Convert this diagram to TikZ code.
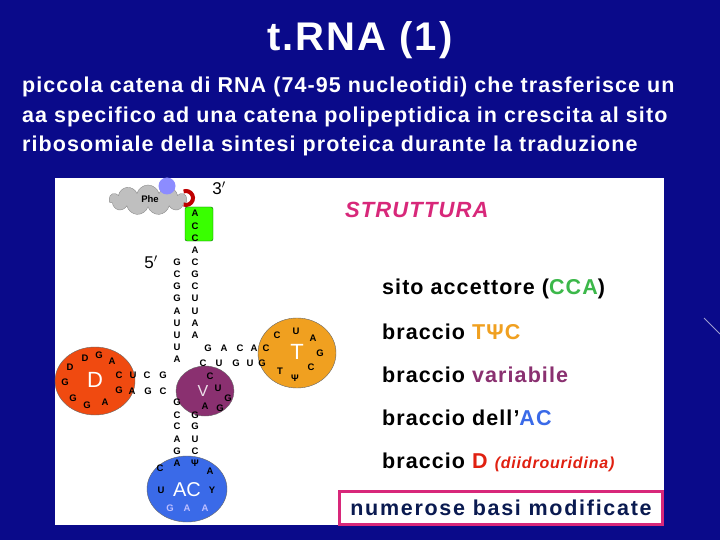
\documentclass[tikz,border=0pt]{standalone}
\usepackage{fontspec}
\setmainfont{Liberation Sans}
\newfontfamily\myfa[LetterSpace=5]{Liberation Sans}
\newfontfamily\myfb[LetterSpace=5]{Liberation Sans}
\newfontfamily\myfc[LetterSpace=8]{Liberation Sans}
\newfontfamily\myfd[LetterSpace=5]{Liberation Sans}
\usetikzlibrary{shapes.symbols,shapes.geometric}
\definecolor{bg}{HTML}{0A0A8A}
\definecolor{pinkc}{HTML}{D8287A}
\definecolor{greenc}{HTML}{3CB84A}
\definecolor{orangec}{HTML}{F0A020}
\definecolor{purc}{HTML}{8A3070}
\definecolor{bluec}{HTML}{3A6AE8}
\definecolor{redc}{HTML}{E02010}
\definecolor{dred}{HTML}{F04A10}
\definecolor{navyc}{HTML}{0A1A50}
\tikzset{b/.style={font=\fontsize{9.5}{10}\selectfont\bfseries,inner sep=0pt},
 item/.style={font=\myfb\fontsize{21.5}{22}\selectfont\bfseries,anchor=west,inner sep=0pt},
 loop/.style={draw=black!60,line width=0.4pt}}
\begin{document}
\begin{tikzpicture}[x=1pt,y=-1pt]
\fill[bg] (0,0) rectangle (720,540);
\useasboundingbox (0,0) rectangle (720,540);
\draw[white!60!bg,line width=1pt] (704,318) -- (720,334);
\node[text=white,font=\myfd\fontsize{40}{44}\selectfont\bfseries] (title) at (360,40) {t.RNA (1)};
\node[text=white,font=\myfa\fontsize{21.5}{29.5}\selectfont\bfseries,align=left,anchor=north west,inner sep=0pt] (para) at (22,77)
{piccola catena di RNA (74-95 nucleotidi) che trasferisce un\\aa specifico ad una catena polipeptidica in crescita al sito\\ribosomiale della sintesi proteica durante la traduzione};
\fill[white] (55,178) rectangle (664,525);
% Phe
\node[cloud,cloud puffs=11,aspect=3,fill=black!25,draw=black!45,minimum width=78,minimum height=30] (cl) at (148,200) {};
\node[font=\fontsize{9.5}{9}\selectfont\bfseries] (phe) at (150,199) {Phe};
\node[circle,fill=blue!45!white,minimum size=17,inner sep=0] (bc) at (167,186) {};
\draw[red!75!black,line width=4pt] (186,198) ++(110:7) arc (110:-110:7);
\node[font=\fontsize{17}{17}\selectfont] (t3) at (219,188) {3$'$};
\node[font=\fontsize{17}{17}\selectfont] (t5) at (151,262) {5$'$};
\node[fill=green!70!lime,draw=green!40!black,rounded corners=2pt,minimum width=28,minimum height=34,inner sep=0] (gb) at (199,224) {};
\foreach \l/\y in {A/213,C/226,C/238,A/250,C/262,G/274,C/286,U/298,U/311,A/323,A/335} \node[b] at (195,\y) {\l};
\foreach \l/\y in {G/262,C/274,G/286,G/298,A/311,U/323,U/335,U/347,A/359} \node[b] at (177,\y) {\l};
% loops
\node[ellipse,fill=orangec,loop,minimum width=78,minimum height=70] (T) at (297,353) {};
\node[ellipse,fill=dred,loop,minimum width=80,minimum height=68] (D) at (95,381) {};
\node[ellipse,fill=purc,loop,minimum width=58,minimum height=50] (V) at (205,391) {};
\node[ellipse,fill=bluec,loop,minimum width=80,minimum height=66] (AC) at (187,489) {};
\node[text=white,font=\fontsize{22}{22}\selectfont] at (297,352) {T};
\node[text=white,font=\fontsize{22}{22}\selectfont] at (95,380) {D};
\node[text=white!85!purc,font=\fontsize{16}{16}\selectfont] at (203,391) {V};
\node[text=white,font=\fontsize{20}{20}\selectfont] at (187,490) {AC};
% T arm
\foreach \l/\x in {G/208,A/224,C/240,A/254,C/266} \node[b] at (\x,348) {\l};
\foreach \l/\x in {C/203,U/219,G/236,U/250,G/262} \node[b] at (\x,363) {\l};
\foreach \l/\x/\y in {C/277/335,U/296/331,A/313/338,G/320/353,C/311/367,Ψ/295/378,T/280/371} \node[b] at (\x,\y) {\l};
% D arm
\foreach \l/\x/\y in {D/70/367,D/85/358,G/99/355,A/112/361,C/119/375,G/119/390,A/105/402,G/87/405,G/73/398,G/65/382} \node[b] at (\x,\y) {\l};
\foreach \l/\x in {U/133,C/147,G/163} \node[b] at (\x,375) {\l};
\foreach \l/\x in {A/132,G/148,C/163} \node[b] at (\x,391) {\l};
% V
\foreach \l/\x/\y in {C/210/376,U/218/388,G/228/398,G/220/408,A/205/406} \node[b] at (\x,\y) {\l};
% AC stem
\foreach \l/\y in {G/402,C/415,C/426,A/439,G/451,A/463} \node[b] at (177,\y) {\l};
\foreach \l/\y in {G/415,G/426,U/439,C/451,Ψ/463} \node[b] at (195,\y) {\l};
\foreach \l/\x/\y in {C/160/468,A/210/471,Y/212/490,U/161/490} \node[b] at (\x,\y) {\l};
\foreach \l/\x in {G/170,A/187,A/205} \node[b,text=blue!25!white] at (\x,508) {\l};
% right texts
\node[text=pinkc,font=\myfd\fontsize{22}{22}\selectfont\bfseries\itshape,anchor=west,inner sep=0pt] (st) at (345,210) {STRUTTURA};
\node[item] (i1) at (382,289) {sito accettore (\textcolor{greenc}{CCA})};
\node[item] (i2) at (382,332) {braccio \textcolor{orangec}{TΨC}};
\node[item] (i3) at (382,375) {braccio \textcolor{purc}{variabile}};
\node[item] (i4) at (382,418) {braccio dell’\textcolor{bluec}{AC}};
\node[item] (i5) at (382,462) {braccio \textcolor{redc}{D} {\myfd\fontsize{16}{16}\selectfont\itshape\textcolor{redc}{(diidrouridina)}}};
\node[draw=pinkc,line width=2.5pt,fill=white,minimum width=323,minimum height=33,text=navyc,font=\myfc\fontsize{21.5}{20}\selectfont\bfseries] (box) at (501,508) {numerose basi modificate};
\end{tikzpicture}
\end{document}
